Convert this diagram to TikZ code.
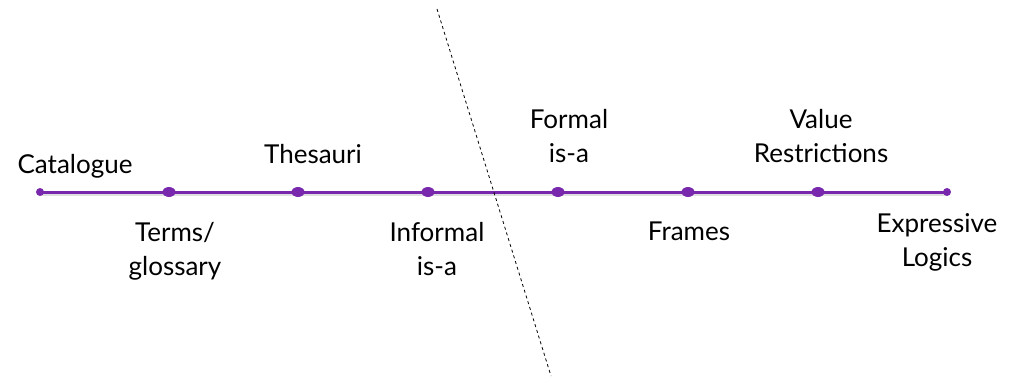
\documentclass[tikz,border=0pt]{standalone}
\usepackage{fontspec}
\setmainfont{Lato}
\usetikzlibrary{shapes.geometric,backgrounds}
\definecolor{scalepurple}{RGB}{120,40,172}
\tikzset{
  x=1pt, y=1pt,
  middot/.style={ellipse, fill=scalepurple, draw=none, inner sep=0pt, minimum width=13pt, minimum height=10pt},
  enddot/.style={circle, fill=scalepurple, draw=none, inner sep=0pt, minimum size=8pt},
  label text/.style={font=\fontsize{26}{34}\selectfont, align=center, anchor=base, inner sep=0pt},
  scaleline/.style={draw=scalepurple, line width=3pt},
  scaleshadow/.style={draw=black!20, line width=3pt, opacity=0.6},
  divider/.style={draw=black, line width=0.8pt, dash pattern=on 3pt off 3pt},
}
\begin{document}
\begin{tikzpicture}
\useasboundingbox (0,0) rectangle (1033,376);
% points along the scale
\node[enddot] (p1) at (40,184) {};
\node[middot] (p2) at (169,184) {};
\node[middot] (p3) at (298,184) {};
\node[middot] (p4) at (428,184) {};
\node[middot] (p5) at (558,184) {};
\node[middot] (p6) at (688,184) {};
\node[middot] (p7) at (818,184) {};
\node[enddot] (p8) at (947,184) {};
% the scale itself, behind the points, with a soft shadow
\begin{pgfonlayer}{background}
\draw[scaleshadow] ([yshift=-2pt]p1.center) -- ([yshift=-2pt]p8.center);
\draw[scaleline] (p1.center) -- (p8.center);
\end{pgfonlayer}
% labels above the scale (anchored at the last line's baseline)
\node[label text] (catalogue) at (75,203) {Catalogue};
\node[label text] (thesauri) at (313,213) {Thesauri};
\node[label text] (formal) at (569,214) {Formal\\is-a};
\node[label text] (value) at (821,214) {Value\\Restrictions};
% labels below the scale
\node[label text] (terms) at (175,101) {Terms/\\glossary};
\node[label text] (informal) at (437,101) {Informal\\is-a};
\node[label text] (frames) at (689,136) {Frames};
\node[label text] (expressive) at (937,110) {Expressive\\Logics};
% dividing line
\coordinate (divtop) at (437,367);
\coordinate (divbot) at (551,0);
\draw[divider] (divtop) -- (divbot);
\end{tikzpicture}
\end{document}
